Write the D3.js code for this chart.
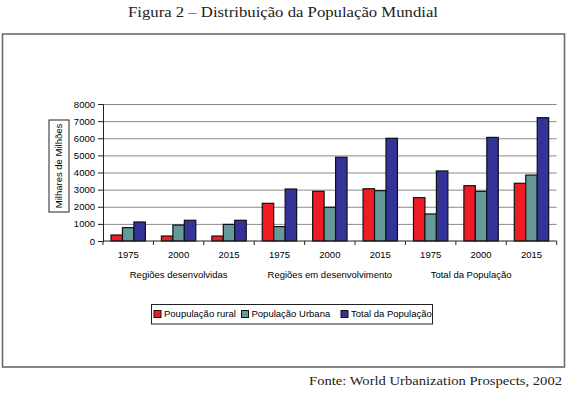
<!DOCTYPE html>
<html>
<head>
  <script src="https://cdnjs.cloudflare.com/ajax/libs/d3/7.8.5/d3.min.js"></script>
  <style>
    body { margin: 0; background: #fff; }
    svg { display: block; }
    .sans { font-family: "Liberation Sans", Arial, sans-serif; font-size: 9.5px; fill: #000; }
    .serif { font-family: "Liberation Serif", "DejaVu Serif", serif; fill: #222; }
  </style>
</head>
<body>
<svg id="chart" width="568" height="395"></svg>
<script>
// data (milhares de milhões)
var groups = ["Regiões desenvolvidas", "Regiões em desenvolvimento", "Total da População"];
var years = ["1975", "2000", "2015"];
var seriesNames = ["Poupulação rural", "População Urbana", "Total da População"];
var rural = [350, 290, 290, 2200, 2900, 3050, 2530, 3230, 3370];
var urban = [780, 930, 970, 840, 1970, 2940, 1580, 2900, 3850];
var total = [1110, 1210, 1210, 3035, 4890, 6000, 4090, 6050, 7200];
var yTicks = [0, 1000, 2000, 3000, 4000, 5000, 6000, 7000, 8000];

var colors = ["#ee1c25", "#669999", "#333399"];
var seriesValues = [rural, urban, total];

// one row per (group, year)
var cats = [];
groups.forEach(function(g, gi) {
  years.forEach(function(yr, yi) {
    cats.push({ id: gi + "-" + yr, group: g, year: yr, idx: gi * 3 + yi });
  });
});

var svg = d3.select("#chart");
var font = "Liberation Sans, Arial, sans-serif";

// outer frame
svg.append("rect")
  .attr("x", 2.5).attr("y", 34)
  .attr("width", 562).attr("height", 333)
  .attr("fill", "none").attr("stroke", "#6b6b6b").attr("stroke-width", 1.6);

svg.append("text")
  .attr("class", "serif")
  .attr("x", 283).attr("y", 17)
  .attr("text-anchor", "middle")
  .attr("textLength", 310).attr("lengthAdjust", "spacingAndGlyphs")
  .style("font-size", "14.5px")
  .text("Figura 2 – Distribuição da População Mundial");

svg.append("text")
  .attr("class", "serif")
  .attr("x", 562).attr("y", 385)
  .attr("text-anchor", "end")
  .attr("textLength", 253).attr("lengthAdjust", "spacingAndGlyphs")
  .style("font-size", "13px")
  .text("Fonte: World Urbanization Prospects, 2002");

var plotL = 103, plotR = 556.7, plotT = 104, plotB = 241;

var x = d3.scaleBand().domain(cats.map(d => d.id)).range([plotL, plotR]).padding(0);
var x1 = d3.scaleBand().domain(seriesNames).range([0, x.bandwidth()]).paddingInner(0).paddingOuter(0.7);
var y = d3.scaleLinear().domain([0, 8000]).range([plotB, plotT]);

// gridlines
svg.append("g")
  .attr("transform", "translate(" + plotL + ",0)")
  .call(d3.axisLeft(y).tickValues(yTicks.slice(1)).tickSize(-(plotR - plotL)).tickFormat(""))
  .call(g => g.select(".domain").remove())
  .call(g => g.selectAll("line").attr("stroke", "#8a8a8a").attr("stroke-width", 1));

// bars
var barG = svg.append("g");
seriesNames.forEach(function(s, si) {
  barG.selectAll(".s" + si)
    .data(cats)
    .enter().append("rect")
    .attr("class", "s" + si)
    .attr("x", d => x(d.id) + x1(s))
    .attr("y", d => y(seriesValues[si][d.idx]))
    .attr("width", x1.bandwidth())
    .attr("height", d => plotB - y(seriesValues[si][d.idx]))
    .attr("fill", colors[si])
    .attr("stroke", "#111")
    .attr("stroke-width", 1.2);
});

// y axis
svg.append("g")
  .attr("transform", "translate(" + plotL + ",0)")
  .call(d3.axisLeft(y).tickValues(yTicks).tickSize(5).tickPadding(3).tickFormat(d3.format("d")))
  .call(g => g.select(".domain").attr("stroke", "#222"))
  .call(g => g.selectAll("line").attr("stroke", "#222"))
  .call(g => g.selectAll("text").attr("font-size", "9.5px").attr("font-family", font).attr("fill", "#000"));

// x axis: year labels, ticks at category boundaries
var xAxis = svg.append("g")
  .attr("transform", "translate(0," + plotB + ")")
  .call(d3.axisBottom(x).tickSize(0).tickPadding(10).tickFormat(id => id.split("-")[1]))
  .call(g => g.select(".domain").attr("stroke", "#222").attr("d", "M" + plotL + ",0H" + plotR))
  .call(g => g.selectAll("text").attr("font-size", "9.5px").attr("font-family", font).attr("fill", "#000"));

var bounds = cats.map(d => x(d.id)).concat([plotR]);
xAxis.selectAll(".bound")
  .data(bounds)
  .enter().append("line")
  .attr("class", "bound")
  .attr("x1", d => d).attr("x2", d => d)
  .attr("y1", 0).attr("y2", 4)
  .attr("stroke", "#222");

// group labels
svg.selectAll(".grp")
  .data(groups)
  .enter().append("text")
  .attr("class", "sans grp")
  .attr("x", (g, i) => (x(i + "-1975") + x(i + "-2015") + x.bandwidth()) / 2 - (i === 2 ? 10 : 0))
  .attr("y", 277.5)
  .attr("text-anchor", "middle")
  .text(g => g);

// y title in a box
var yt = svg.append("g").attr("transform", "translate(59,166) rotate(-90)");
yt.append("rect")
  .attr("x", -46).attr("y", -10)
  .attr("width", 92).attr("height", 20)
  .attr("fill", "#fff").attr("stroke", "#222").attr("stroke-width", 1);
yt.append("text")
  .attr("class", "sans")
  .attr("text-anchor", "middle")
  .attr("dy", "0.35em")
  .text("Milhares de Milhões");

// legend
var lg = svg.append("g");
lg.append("rect")
  .attr("x", 151.5).attr("y", 304.5)
  .attr("width", 281).attr("height", 19.5)
  .attr("fill", "#fff").attr("stroke", "#222").attr("stroke-width", 1);
var legX = [154, 241.5, 341];
var items = lg.selectAll(".item")
  .data(seriesNames)
  .enter().append("g")
  .attr("class", "item")
  .attr("transform", (d, i) => "translate(" + legX[i] + ",314)");
items.append("rect")
  .attr("x", 0).attr("y", -3.5)
  .attr("width", 7).attr("height", 7)
  .attr("fill", (d, i) => colors[i])
  .attr("stroke", "#111").attr("stroke-width", 1);
items.append("text")
  .attr("class", "sans")
  .attr("x", 10).attr("dy", "0.35em")
  .text(d => d);
</script>
</body>
</html>
